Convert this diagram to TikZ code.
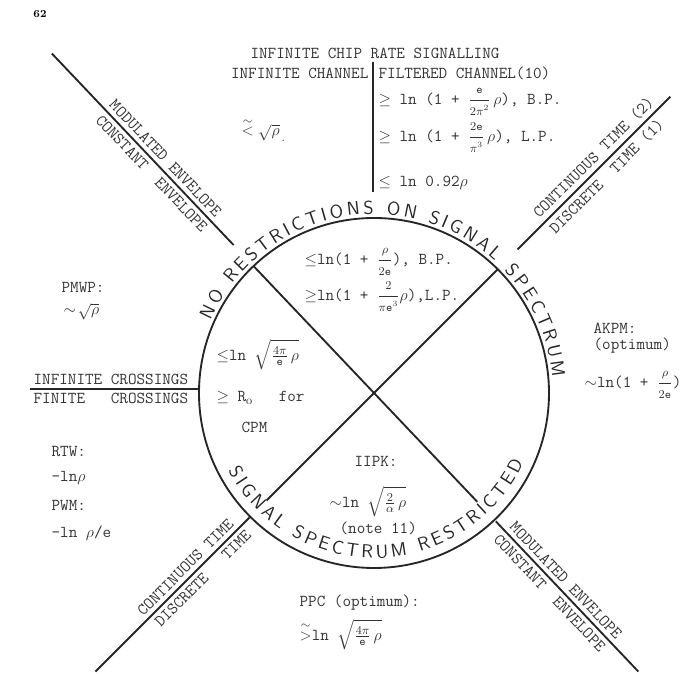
\documentclass[tikz,border=0pt]{standalone}
\usepackage{amsmath,amssymb}
\usepackage{tikz}
\usepackage{xcolor}
\usetikzlibrary{decorations.text}

\newcommand{\handcaps}{\sffamily\fontsize{14}{16}\selectfont\color{black!85}}
\newcommand{\te}{\mathtt{e}}
\newcommand{\fr}[2]{\dfrac{\scriptstyle #1}{\scriptstyle #2}}
\tikzset{
  typed/.style={font=\ttfamily\fontsize{12.5}{14}\selectfont, text=black!80, inner sep=1pt},
  spoke/.style={typed, sloped, inner sep=3pt},
  rule/.style={line width=1.4pt, black!85},
}

\begin{document}
\begin{tikzpicture}[x=0.75pt,y=0.75pt]
\useasboundingbox (0,0) rectangle (687,674);
\node[font=\rmfamily\bfseries\fontsize{8}{9}\selectfont] (pagenum) at (40,660) {62};
% the wheel
\coordinate (c) at (374,281);
\draw[rule] (c) circle[radius=175];
\path (c) ++(133.5:175) coordinate (ulcirc) (c) ++(133.5:204) coordinate (ulin) (c) ++(133.5:468) coordinate (ulout);
\path (c) ++(-46.5:150) coordinate (lrcirc) (c) ++(-46.5:177) coordinate (lrin) (c) ++(-46.5:384) coordinate (lrout);
\path (c) ++(45:175) coordinate (urcirc) (c) ++(45:203) coordinate (urin) (c) ++(45:419) coordinate (urout);
\path (c) ++(225:152) coordinate (llcirc) (c) ++(225:176) coordinate (llin) (c) ++(225:394) coordinate (llout);
\draw[rule] (ulcirc) -- (lrcirc);
\draw[rule] (urcirc) -- (llcirc);
% spokes outside
\draw[rule] (ulout) -- (ulin)
  node[spoke, above, pos=.585] (ulmod) {MODULATED ENVELOPE}
  node[spoke, below, pos=.59] (ulcon) {CONSTANT~~ENVELOPE};
\draw[rule] (lrin) -- (lrout)
  node[spoke, above, pos=.44] (lrmod) {MODULATED ENVELOPE}
  node[spoke, below, pos=.43] (lrcon) {CONSTANT~~ENVELOPE};
\draw[rule] (urin) -- (urout)
  node[spoke, above, pos=.55] (urcont) {CONTINUOUS TIME (2)}
  node[spoke, below, pos=.53] (urdisc) {DISCRETE~~TIME (1)};
\draw[rule] (llout) -- (llin)
  node[spoke, above, pos=.63] (llcont) {CONTINUOUS TIME}
  node[spoke, below, pos=.65] (lldisc) {DISCRETE~~~TIME};
\coordinate (hzl) at (30,285);
\coordinate (hzr) at (199,285);
\draw[rule] (hzl) -- (hzr);
\node[typed, anchor=south west] (infcross) at (32,288) {INFINITE CROSSINGS};
\node[typed, anchor=north west] (fincross) at (32,282) {FINITE~~~CROSSINGS};
\coordinate (vtop) at (373,612);
\coordinate (vbot) at (373,482);
\draw[rule] (vtop) -- (vbot);
% lettering round the rim
\path[decorate, decoration={text along path, text align={fit to path},
  text={|\handcaps|NO RESTRICTIONS ON SIGNAL SPECTRUM}}]
  (c) ++(156:179) arc[start angle=156, end angle=5, radius=179];
\path[decorate, decoration={text along path, text align={fit to path},
  text={|\handcaps|SIGNAL SPECTRUM RESTRICTED}}]
  (c) ++(208:165) arc[start angle=208, end angle=335, radius=165];
% top
\node[typed] (chip) at (375,621) {INFINITE CHIP RATE SIGNALLING};
\node[typed, anchor=east] (infchan) at (370,601) {INFINITE CHANNEL};
\node[typed, anchor=west] (filtchan) at (377,601) {FILTERED CHANNEL(10)};
\node[typed, anchor=west] (fbp) at (377,572) {$\geq$ ln (1 + $\fr{\te}{2\pi^2}\,\rho$), B.P.};
\node[typed, anchor=west] (flp) at (377,536) {$\geq$ ln (1 + $\fr{2\te}{\pi^3}\,\rho$), L.P.};
\node[typed, anchor=west] (fsmall) at (377,491) {$\leq$ ln 0.92$\rho$};
\node[typed, anchor=west] (ichan) at (240,544) {$\stackrel{\sim}{<}\sqrt{\rho}_{\,.}$};
% inside the wheel
\node[typed, anchor=west] (nbp) at (303,412) {$\leq$ln(1 + $\fr{\rho}{2\te}$), B.P.};
\node[typed, anchor=west] (nlp) at (303,377) {$\geq$ln(1 + $\fr{2}{\pi\te^3}\rho$),L.P.};
\node[typed, anchor=west] (cpmup) at (215,319) {$\leq$ln $\sqrt{\frac{4\pi}{\te}\,\rho}$};
\node[typed, anchor=west] (cpmlow) at (215,276) {$\geq$ R$_{\mathrm{o}}$~~~for};
\node[typed, anchor=west] (cpm) at (240,247) {CPM};
\node[typed, anchor=west] (iipk) at (353,213) {IIPK:};
\node[typed, anchor=west] (iipkf) at (328,172) {$\sim$ln $\sqrt{\frac{2}{\alpha}\,\rho}$};
\node[typed, anchor=west] (note) at (338,146) {(note 11)};
% outside, left and right
\node[typed, anchor=west] (pmwp) at (60,387) {PMWP:};
\node[typed, anchor=west] (pmwpf) at (62,362) {$\sim\!\sqrt{\rho}$};
\node[typed, anchor=west] (akpm) at (592,346) {AKPM:};
\node[typed, anchor=west] (akpmopt) at (592,328) {(optimum)};
\node[typed, anchor=west] (akpmf) at (583,289) {$\sim$ln(1 + $\fr{\rho}{2\te}$)};
\node[typed, anchor=west] (rtw) at (50,222) {RTW:};
\node[typed, anchor=west] (rtwf) at (50,196) {-ln$\rho$};
\node[typed, anchor=west] (pwm) at (50,169) {PWM:};
\node[typed, anchor=west] (pwmf) at (50,141) {-ln $\rho$/e};
% bottom
\node[typed, anchor=west] (ppc) at (298,71) {PPC (optimum):};
\node[typed, anchor=west] (ppcf) at (298,39) {$\stackrel{\sim}{>}$ln $\sqrt{\frac{4\pi}{\te}\,\rho}$};
\end{tikzpicture}
\end{document}
